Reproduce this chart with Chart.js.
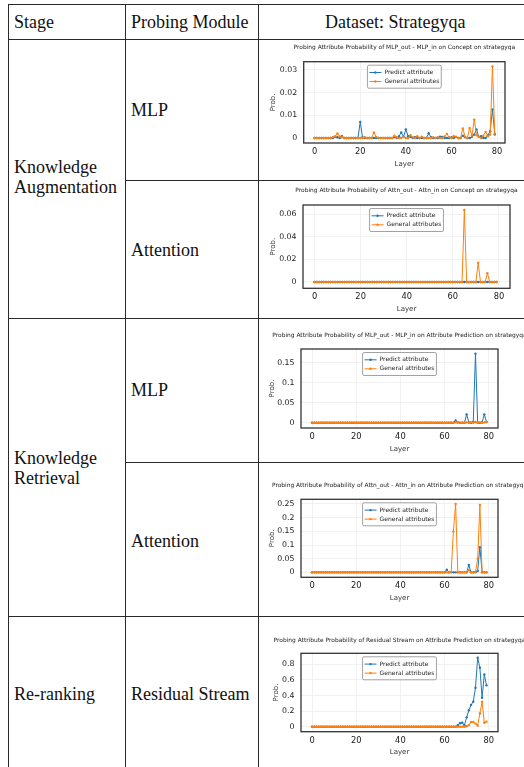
<!DOCTYPE html>
<html>
<head>
<meta charset="utf-8">
<script src="https://cdn.jsdelivr.net/npm/chart.js@4.4.0/dist/chart.umd.min.js"></script>
<style>
html, body { margin: 0; padding: 0; width: 524px; height: 767px; overflow: hidden; background: #fff; }
.ln { position: absolute; background: #2a2a2a; }
.txt { position: absolute; font-family: "Liberation Serif", "Times New Roman", serif; font-size: 18px; line-height: 20px; color: #111; white-space: nowrap; }
canvas { position: absolute; left: 259px; }
</style>
</head>
<body>

<canvas id="c1"></canvas>
<canvas id="c2"></canvas>
<canvas id="c3"></canvas>
<canvas id="c4"></canvas>
<canvas id="c5"></canvas>

<!-- table rules -->
<div class="ln" style="left:8px;top:4px;width:516px;height:1px"></div>
<div class="ln" style="left:8px;top:39px;width:516px;height:1px"></div>
<div class="ln" style="left:125px;top:180px;width:399px;height:1px"></div>
<div class="ln" style="left:8px;top:318px;width:516px;height:1px"></div>
<div class="ln" style="left:125px;top:462px;width:399px;height:1px"></div>
<div class="ln" style="left:8px;top:616px;width:516px;height:1px"></div>
<div class="ln" style="left:8px;top:4px;width:1px;height:763px"></div>
<div class="ln" style="left:125px;top:4px;width:1px;height:763px"></div>
<div class="ln" style="left:258px;top:4px;width:1px;height:763px"></div>

<div class="txt" style="left:14px;top:12px">Stage</div>
<div class="txt" style="left:131px;top:12px">Probing Module</div>
<div class="txt" style="left:325px;top:12px">Dataset: Strategyqa</div>

<div class="txt" style="left:14px;top:157px">Knowledge<br>Augmentation</div>
<div class="txt" style="left:131px;top:100px">MLP</div>
<div class="txt" style="left:131px;top:240px">Attention</div>

<div class="txt" style="left:14px;top:448px">Knowledge<br>Retrieval</div>
<div class="txt" style="left:131px;top:380px">MLP</div>
<div class="txt" style="left:131px;top:531px">Attention</div>

<div class="txt" style="left:14px;top:684px">Re-ranking</div>
<div class="txt" style="left:131px;top:684px">Residual Stream</div>

<script>
// layer index on the x axis
const layers = Array.from({length: 80}, (_, i) => i);
const xTicks = [0, 20, 40, 60, 80];

// MLP, concept
const mlpConceptPredict = [
  0, 0, 0, 0, 0, 0, 0, 0, 0, 0.0005, 0.0003, 0, 0.0008, 0, 0, 0, 0, 0, 0, 0,
  0.0071, 0.0003, 0, 0, 0, 0, 0, 0, 0, 0, 0, 0, 0, 0, 0, 0.0004, 0, 0.0008, 0.0024, 0.0005,
  0.0038, 0.0008, 0.0005, 0, 0.0004, 0, 0, 0, 0, 0, 0.0021, 0.0004, 0, 0, 0, 0.0006, 0.0005, 0, 0, 0,
  0.0003, 0, 0.0004, 0, 0, 0.001, 0.0003, 0, 0, 0.0005, 0.0015, 0.0038, 0.0005, 0.0008, 0, 0, 0.0012, 0.003, 0.0126, 0.0015
];
const mlpConceptGeneral = [
  0, 0, 0, 0, 0, 0, 0, 0, 0.0004, 0.0008, 0.002, 0.0007, 0.0003, 0, 0, 0, 0, 0, 0, 0,
  0, 0, 0.0003, 0, 0, 0, 0.0024, 0.0005, 0, 0, 0, 0, 0, 0, 0, 0.001, 0.0003, 0, 0, 0.0004,
  0, 0, 0.0012, 0.0004, 0, 0.0008, 0, 0.0006, 0, 0, 0, 0, 0.0003, 0, 0.0004, 0, 0, 0.0007, 0.0018, 0.0004,
  0, 0.0008, 0.0006, 0, 0, 0.0042, 0.0005, 0, 0.0044, 0.001, 0.0081, 0.0012, 0.0006, 0, 0.001, 0.0027, 0.0008, 0.0015, 0.0315, 0.002
];

// Attention, concept
const attnConceptPredict = [
  0, 0, 0, 0, 0, 0, 0, 0, 0, 0, 0, 0, 0, 0, 0, 0, 0, 0, 0, 0,
  0, 0, 0, 0, 0, 0, 0, 0, 0, 0, 0, 0, 0, 0, 0, 0, 0, 0, 0, 0,
  0, 0, 0, 0, 0, 0, 0, 0, 0, 0, 0, 0, 0, 0, 0, 0, 0, 0, 0, 0,
  0, 0, 0, 0, 0, 0, 0, 0, 0, 0, 0, 0, 0, 0, 0, 0, 0, 0, 0, 0
];
const attnConceptGeneral = [
  0, 0, 0, 0, 0, 0, 0, 0, 0, 0, 0, 0, 0, 0, 0, 0, 0, 0, 0, 0,
  0, 0, 0, 0, 0, 0, 0, 0, 0, 0, 0, 0, 0, 0, 0, 0, 0, 0, 0, 0,
  0, 0, 0, 0, 0, 0, 0, 0, 0, 0, 0, 0, 0, 0, 0, 0, 0, 0, 0, 0,
  0, 0, 0, 0, 0, 0.0638, 0, 0, 0, 0, 0, 0.0171, 0, 0, 0, 0.0077, 0, 0, 0, 0
];

// MLP, attribute prediction
const mlpPredPredict = [
  0, 0, 0, 0, 0, 0, 0, 0, 0, 0, 0, 0, 0, 0, 0, 0, 0, 0, 0, 0,
  0, 0, 0, 0, 0, 0, 0, 0, 0, 0, 0, 0, 0, 0, 0, 0, 0, 0, 0, 0,
  0, 0, 0, 0, 0, 0, 0, 0, 0, 0, 0, 0, 0, 0, 0, 0, 0, 0, 0, 0,
  0, 0, 0, 0, 0, 0.006, 0.001, 0, 0, 0, 0.021, 0.001, 0, 0.002, 0.172, 0, 0, 0.001, 0.021, 0.002
];
const mlpPredGeneral = [
  0, 0, 0, 0, 0, 0, 0, 0, 0, 0, 0, 0, 0, 0, 0, 0, 0, 0, 0.0005, 0,
  0, 0, 0, 0, 0, 0, 0, 0, 0, 0, 0, 0, 0, 0, 0, 0, 0, 0, 0, 0,
  0, 0, 0, 0, 0, 0, 0, 0, 0, 0, 0, 0, 0, 0, 0, 0, 0, 0, 0, 0,
  0, 0, 0, 0, 0, 0.001, 0.001, 0, 0, 0, 0.001, 0, 0.001, 0, 0.002, 0, 0.001, 0, 0.001, 0.002
];

// Attention, attribute prediction
const attnPredPredict = [
  0, 0, 0, 0, 0, 0, 0, 0, 0, 0, 0, 0, 0, 0, 0, 0, 0, 0, 0, 0,
  0, 0, 0, 0, 0, 0, 0, 0, 0, 0, 0, 0, 0, 0, 0, 0, 0, 0, 0, 0,
  0, 0, 0, 0, 0, 0, 0, 0, 0, 0, 0, 0, 0, 0, 0, 0, 0, 0, 0, 0,
  0, 0.01, 0, 0, 0, 0, 0, 0, 0, 0, 0, 0.027, 0, 0, 0, 0.005, 0.092, 0, 0, 0
];
const attnPredGeneral = [
  0, 0, 0, 0, 0, 0, 0, 0, 0, 0, 0, 0, 0, 0, 0, 0, 0, 0, 0, 0,
  0, 0, 0, 0, 0, 0, 0, 0, 0, 0, 0, 0, 0, 0, 0, 0, 0, 0, 0, 0,
  0, 0, 0, 0, 0, 0, 0, 0, 0, 0, 0, 0, 0, 0, 0, 0, 0, 0, 0, 0,
  0, 0, 0, 0.002, 0.149, 0.25, 0, 0, 0, 0, 0, 0.008, 0, 0, 0.002, 0.05, 0.246, 0, 0, 0
];

// Residual stream, attribute prediction
const residPredict = [
  0, 0, 0, 0, 0, 0, 0, 0, 0, 0, 0, 0, 0, 0, 0, 0, 0, 0, 0, 0,
  0, 0, 0, 0, 0, 0, 0, 0, 0, 0, 0, 0, 0, 0, 0, 0, 0, 0, 0, 0,
  0, 0, 0, 0, 0, 0, 0, 0, 0, 0, 0, 0, 0, 0, 0, 0, 0, 0, 0, 0,
  0, 0, 0, 0, 0, 0, 0.02, 0.045, 0.05, 0.02, 0.12, 0.21, 0.28, 0.32, 0.5, 0.885, 0.756, 0.37, 0.67, 0.53
];
const residGeneral = [
  0, 0, 0, 0, 0, 0, 0, 0, 0, 0, 0, 0, 0, 0, 0, 0, 0, 0, 0, 0,
  0, 0, 0, 0, 0, 0, 0, 0, 0, 0, 0, 0, 0, 0, 0, 0, 0, 0, 0, 0,
  0, 0, 0, 0, 0, 0, 0, 0, 0, 0, 0, 0, 0, 0, 0, 0, 0, 0, 0, 0,
  0, 0, 0, 0, 0, 0, 0, 0, 0, 0, 0.005, 0.02, 0.06, 0.06, 0.04, 0.015, 0.17, 0.32, 0.05, 0.065
];

const FONT = '"DejaVu Sans", "Liberation Sans", sans-serif';
Chart.defaults.font.family = FONT;
Chart.defaults.animation = false;

// title, plot frame and the boxed legend drawn inside the plot, matplotlib style
const framePlugin = {
  id: 'frame',
  afterDraw(chart, args, opts) {
    const ctx = chart.ctx, a = chart.chartArea;
    ctx.save();
    ctx.strokeStyle = '#333';
    ctx.lineWidth = 1.3;
    ctx.strokeRect(a.left, a.top, a.width, a.height);

    ctx.font = '6px ' + FONT;
    const sets = chart.data.datasets;
    const tw = Math.max(...sets.map(d => ctx.measureText(d.label).width));
    const w = 2 + 12 + 3 + tw + 2, h = 23;
    const x0 = (a.left + a.right) / 2 - w / 2, y0 = a.top + 3.5;
    ctx.fillStyle = 'rgba(255,255,255,0.85)';
    ctx.strokeStyle = '#8a8a8a';
    ctx.lineWidth = 0.8;
    ctx.beginPath();
    ctx.roundRect(x0, y0, w, h, 1.5);
    ctx.fill();
    ctx.stroke();
    sets.forEach((d, i) => {
      const y = y0 + 7.3 + i * 9;
      ctx.strokeStyle = d.borderColor;
      ctx.lineWidth = 1;
      ctx.beginPath();
      ctx.moveTo(x0 + 2, y);
      ctx.lineTo(x0 + 14, y);
      ctx.stroke();
      ctx.fillStyle = d.borderColor;
      ctx.beginPath();
      ctx.arc(x0 + 8, y, 1.2, 0, Math.PI * 2);
      ctx.fill();
      ctx.fillStyle = '#222';
      ctx.textBaseline = 'middle';
      ctx.textAlign = 'left';
      ctx.fillText(d.label, x0 + 17, y);
    });

    ctx.font = '5.9px ' + FONT;
    ctx.fillStyle = '#222';
    ctx.textAlign = 'center';
    ctx.textBaseline = 'middle';
    ctx.fillText(opts.title, (a.left + a.right) / 2, opts.titleY);
    ctx.restore();
  }
};

const CANVAS_LEFT = 259, CANVAS_W = 300, X_AXIS_H = 26;

const panels = [
  { id: 'c1', top: 40, bottom: 180, plot: { l: 303.7, r: 505, t: 61.7, b: 143 }, titleY: 47, yTitleX: 273,
    xMin: -4.8, xMax: 83.5, yMin: -0.0022, yMax: 0.0336, yTicks: [0, 0.01, 0.02, 0.03],
    title: 'Probing Attribute Probability of MLP_out - MLP_in on Concept on strategyqa',
    predict: mlpConceptPredict, general: mlpConceptGeneral },
  { id: 'c2', top: 181, bottom: 318, plot: { l: 303, r: 510, t: 205, b: 288.3 }, titleY: 190, yTitleX: 273,
    xMin: -5, xMax: 84.8, yMin: -0.0056, yMax: 0.0682, yTicks: [0, 0.02, 0.04, 0.06],
    title: 'Probing Attribute Probability of Attn_out - Attn_in on Concept on strategyqa',
    predict: attnConceptPredict, general: attnConceptGeneral },
  { id: 'c3', top: 319, bottom: 462, plot: { l: 301, r: 498, t: 349, b: 428 }, titleY: 335, yTitleX: 272,
    xMin: -5, xMax: 84.2, yMin: -0.013, yMax: 0.184, yTicks: [0, 0.05, 0.1, 0.15],
    title: 'Probing Attribute Probability of MLP_out - MLP_in on Attribute Prediction on strategyqa',
    predict: mlpPredPredict, general: mlpPredGeneral },
  { id: 'c4', top: 463, bottom: 616, plot: { l: 301, r: 498, t: 499.3, b: 577.3 }, titleY: 485, yTitleX: 272,
    xMin: -5, xMax: 84.2, yMin: -0.018, yMax: 0.267, yTicks: [0, 0.05, 0.1, 0.15, 0.2, 0.25],
    title: 'Probing Attribute Probability of Attn_out - Attn_in on Attribute Prediction on strategyqa',
    predict: attnPredPredict, general: attnPredGeneral },
  { id: 'c5', top: 617, bottom: 767, plot: { l: 301, r: 498, t: 653.3, b: 731.7 }, titleY: 640, yTitleX: 276,
    xMin: -5, xMax: 84.2, yMin: -0.064, yMax: 0.941, yTicks: [0, 0.2, 0.4, 0.6, 0.8],
    title: 'Probing Attribute Probability of Residual Stream on Attribute Prediction on strategyqa',
    predict: residPredict, general: residGeneral }
];

function series(label, color, vals, order) {
  return {
    label: label,
    data: layers.map((l, i) => ({ x: l, y: vals[i] })),
    borderColor: color,
    backgroundColor: color,
    borderWidth: 1,
    pointRadius: 1.2,
    pointBorderWidth: 0,
    pointHoverRadius: 1.2,
    tension: 0,
    order: order
  };
}

panels.forEach(p => {
  const cv = document.getElementById(p.id);
  const h = p.bottom - p.top;
  cv.width = CANVAS_W;
  cv.height = h;
  cv.style.top = p.top + 'px';
  cv.style.width = CANVAS_W + 'px';
  cv.style.height = h + 'px';

  const yW = p.plot.l - CANVAS_LEFT;
  new Chart(cv.getContext('2d'), {
    type: 'line',
    data: {
      datasets: [
        series('Predict attribute', '#1f77b4', p.predict, 1),
        series('General attributes', '#ff7f0e', p.general, 0)
      ]
    },
    options: {
      responsive: false,
      events: [],
      layout: {
        padding: {
          left: 0,
          top: p.plot.t - p.top,
          right: CANVAS_LEFT + CANVAS_W - p.plot.r,
          bottom: h - (p.plot.b - p.top) - X_AXIS_H
        }
      },
      plugins: {
        legend: { display: false },
        tooltip: { enabled: false },
        frame: { title: p.title, titleY: p.titleY - p.top }
      },
      scales: {
        x: {
          type: 'linear',
          min: p.xMin,
          max: p.xMax,
          afterBuildTicks: s => { s.ticks = xTicks.map(v => ({ value: v })); },
          afterFit: s => { s.height = X_AXIS_H; },
          grid: { color: '#eeeeee', lineWidth: 0.8, drawTicks: false },
          border: { display: false },
          ticks: { font: { size: 8.3 }, color: '#222', padding: 4, maxRotation: 0, callback: v => String(v) },
          title: { display: true, text: 'Layer', font: { size: 7 }, color: '#333', padding: { top: 0, bottom: 1 } }
        },
        y: {
          min: p.yMin,
          max: p.yMax,
          afterBuildTicks: s => { s.ticks = p.yTicks.map(v => ({ value: v })); },
          afterFit: s => { s.width = yW; },
          grid: { color: '#eeeeee', lineWidth: 0.8, drawTicks: false },
          border: { display: false },
          ticks: { font: { size: 7.8 }, color: '#222', padding: 6.5, callback: v => String(v) },
          title: { display: true, text: 'Prob.', font: { size: 7 }, color: '#333',
                   padding: { top: p.yTitleX - CANVAS_LEFT - 4.2, bottom: 0 } }
        }
      }
    },
    plugins: [framePlugin]
  });
});
</script>
</body>
</html>
